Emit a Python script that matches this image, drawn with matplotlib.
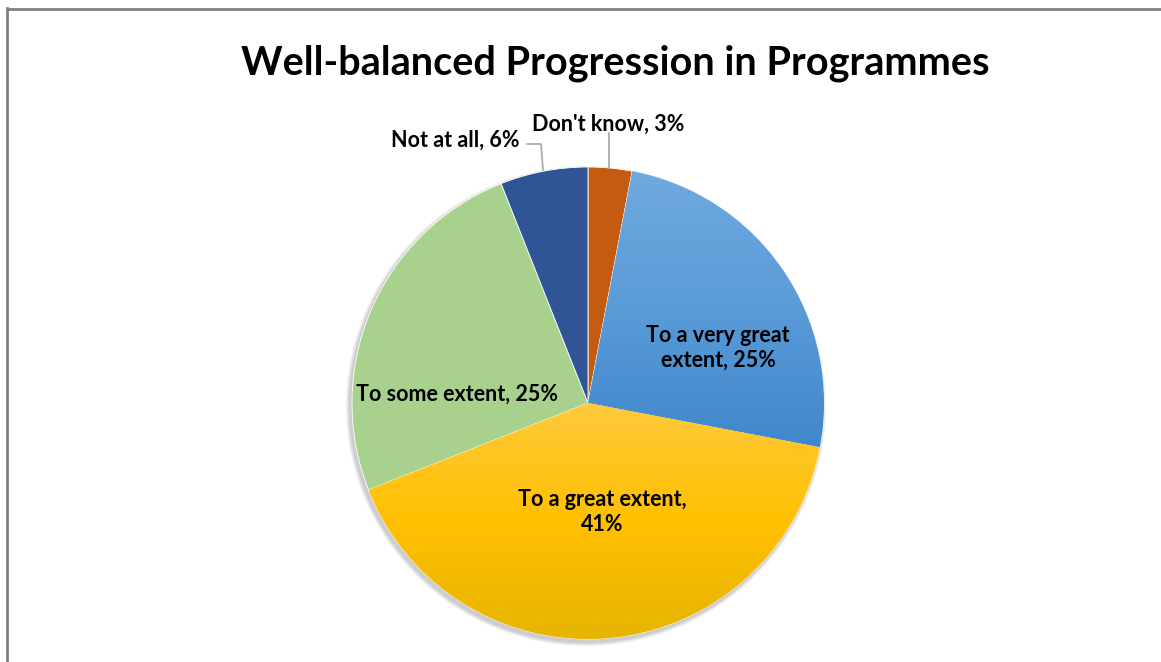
import numpy as np
import matplotlib
matplotlib.use("Agg")
import matplotlib.pyplot as plt
from matplotlib.patches import Circle
from matplotlib.lines import Line2D
from matplotlib.colors import LinearSegmentedColormap

plt.rcParams['font.family'] = ['Lato', 'DejaVu Sans']

title = "Well-balanced Progression in Programmes"
categories = ["Don't know", "To a very great extent", "To a great extent",
              "To some extent", "Not at all"]
values = [3, 25, 41, 25, 6]
label_texts = ["Don't know, 3%", "To a very great\nextent, 25%", "To a great extent,\n41%",
               "To some extent, 25%", "Not at all, 6%"]

# gradient (top, middle, bottom) colours per slice
grad_colors = [("#C55A11", "#C55A11", "#C55A11"),
               ("#70A9DF", "#5A9BD8", "#3F87CC"),
               ("#FFC93C", "#FFC000", "#E6B400"),
               ("#A9D18E", "#A9D18E", "#A9D18E"),
               ("#2F5597", "#2F5597", "#2F5597")]

W, H = 1161, 662
fig = plt.figure(figsize=(W / 100, H / 100), dpi=100)
ax = fig.add_axes([0, 0, 1, 1])
ax.set_xlim(0, W)
ax.set_ylim(0, H)
ax.set_aspect('equal')
ax.axis('off')

cx, cy, R = 588, H - 403, 236

# soft shadow
for i, a in enumerate([0.05, 0.05, 0.05, 0.05]):
    ax.add_patch(Circle((cx - 2, cy - 3), R + 1 + i, color='black', alpha=a, lw=0, zorder=0))

wedges, _ = ax.pie(values, startangle=90, counterclock=False, center=(cx, cy), radius=R,
                   colors=[c[1] for c in grad_colors],
                   wedgeprops=dict(linewidth=0.6, edgecolor='white'))
ax.set_xlim(0, W)
ax.set_ylim(0, H)

for w, (ctop, cmid, cbot) in zip(wedges, grad_colors):
    if ctop != cbot:
        verts = w.get_patch_transform().transform(w.get_path().vertices)
        x0, y0 = verts.min(axis=0)
        x1, y1 = verts.max(axis=0)
        cmap = LinearSegmentedColormap.from_list('g', [cbot, cmid, ctop])
        grad = np.linspace(0, 1, 256).reshape(-1, 1)
        im = ax.imshow(grad, cmap=cmap, origin='lower', aspect='auto',
                       extent=(x0, x1, y0, y1), zorder=2)
        im.set_clip_path(w)
    w.set_zorder(1)

lab_pos = [(608, H - 124), (718, H - 348), (602, H - 512),
           (457, H - 394), (455, H - 140)]
for t, (x, y) in zip(label_texts, lab_pos):
    ax.text(x, y, t, ha='center', va='center', fontsize=15.5, fontweight='bold',
            color='black', linespacing=1.2, zorder=5)

# leader lines
ax.plot([609, 609], [H - 133, H - 168], color='#A6A6A6', lw=1.2, zorder=4)
ax.plot([527, 541, 543], [H - 144, H - 144, H - 170], color='#A6A6A6', lw=1.2, zorder=4)

ax.text(615, H - 63, title, ha='center', va='center', fontsize=28.5,
        fontweight='bold', color='black')

# chart frame
fig.add_artist(Line2D([7 / W, 7 / W], [0, 1 - 8 / H], transform=fig.transFigure,
                      color='#808080', lw=2))
fig.add_artist(Line2D([7 / W, 1], [1 - 9 / H, 1 - 9 / H], transform=fig.transFigure,
                      color='#808080', lw=2))

fig.savefig("out.png", dpi=100)
